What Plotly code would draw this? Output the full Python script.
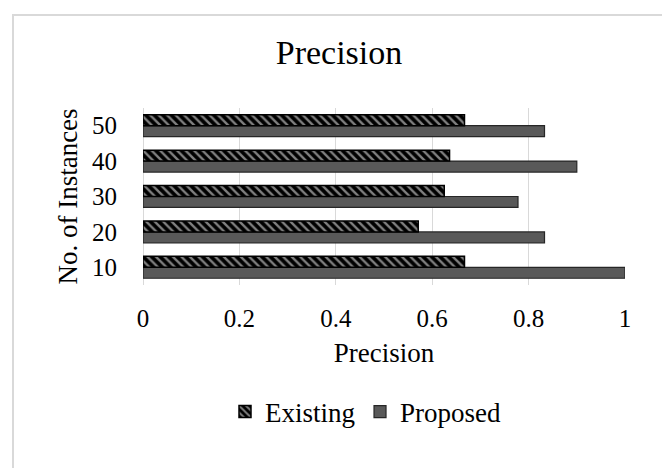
import plotly.graph_objects as go

categories = ["10", "20", "30", "40", "50"]
existing = [0.667, 0.571, 0.625, 0.636, 0.667]
proposed = [1.0, 0.833, 0.778, 0.9, 0.833]
x_ticks = [0, 0.2, 0.4, 0.6, 0.8, 1]
x_tick_labels = ["0", "0.2", "0.4", "0.6", "0.8", "1"]

OFF = 8  # page body margin
W, H = 670 - OFF, 468 - OFF
L, R, T, B = 143 - OFF, 45, 108 - OFF, 183
PW, PH = W - L - R, H - T - B

def px_x(px):
    return (px - OFF - L) / PW

def px_y(py):
    return (H - B - (py - OFF)) / PH

FONT = "Liberation Serif, Times New Roman, serif"

fig = go.Figure()
fig.add_trace(go.Bar(
    y=categories, x=proposed, name="Proposed", orientation="h",
    marker=dict(color="#595959", line=dict(color="#262626", width=1.2)),
    legendrank=2,
))
fig.add_trace(go.Bar(
    y=categories, x=existing, name="Existing", orientation="h",
    marker=dict(color="#000000", line=dict(color="#000000", width=1.5),
                pattern=dict(shape="\\", bgcolor="#000000", fgcolor="#ffffff",
                             size=6, solidity=0.4)),
    legendrank=1,
))

fig.update_layout(
    width=W, height=H,
    margin=dict(l=L, r=R, t=T, b=B),
    paper_bgcolor="white", plot_bgcolor="white",
    barmode="group", bargap=0.38, bargroupgap=0,
    font=dict(family=FONT, color="#000000", size=25),
    title=dict(text="Precision", x=(339 - OFF) / W, xref="container", xanchor="center",
               y=1 - (52 - OFF) / H, yref="container", yanchor="middle",
               font=dict(size=34, family=FONT, color="#000000")),
    legend=dict(orientation="h", x=px_x(366), xanchor="center",
                y=px_y(412), yanchor="middle",
                font=dict(size=27, family=FONT), bgcolor="rgba(0,0,0,0)",
                itemclick=False),
    showlegend=True,
    shapes=[dict(type="rect", xref="paper", yref="paper",
                 x0=px_x(13), x1=px_x(665), y0=px_y(490), y1=px_y(15),
                 line=dict(color="#d9d9d9", width=2), fillcolor="rgba(0,0,0,0)",
                 layer="below")],
)

fig.update_xaxes(
    range=[0, 1], tickvals=x_ticks, ticktext=x_tick_labels,
    showgrid=True, gridcolor="#d9d9d9", gridwidth=1,
    zeroline=True, zerolinecolor="#d9d9d9", zerolinewidth=1,
    showline=False, ticks="outside", ticklen=0, ticklabelstandoff=11,
    tickfont=dict(size=25, family=FONT),
    title=dict(text="Precision", font=dict(size=27, family=FONT), standoff=12),
)
fig.update_yaxes(
    type="category", categoryorder="array", categoryarray=categories,
    showgrid=False, showline=False, ticks="outside", ticklen=0,
    ticklabelstandoff=20, tickfont=dict(size=25, family=FONT),
    title=dict(text="No. of Instances", font=dict(size=27, family=FONT), standoff=6),
)

fig.write_html("out.html")
